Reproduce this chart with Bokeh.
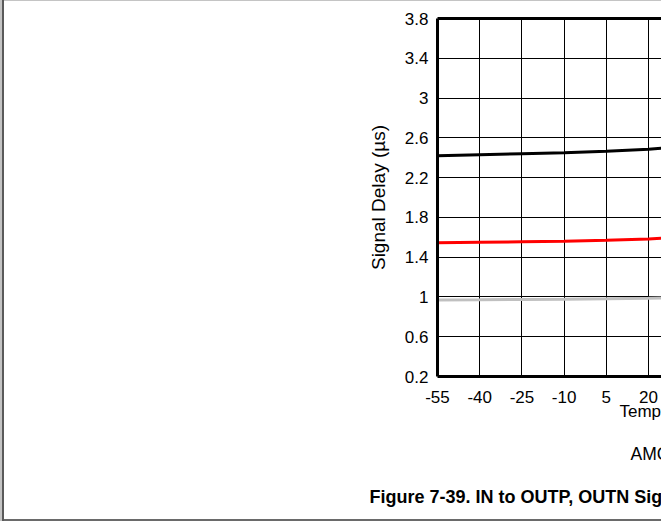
from bokeh.plotting import figure
from bokeh.models import (Range1d, FixedTicker, LinearAxis, Title)
from bokeh.embed import file_html
from bokeh.resources import INLINE

# ---- data ----
temperature = [-55, -40, -25, -10, 5, 20, 35]
delay_black = [2.42, 2.43, 2.44, 2.45, 2.465, 2.485, 2.52]
delay_red = [1.545, 1.55, 1.555, 1.56, 1.57, 1.583, 1.61]
delay_gray = [0.97, 0.972, 0.975, 0.978, 0.982, 0.987, 0.995]

x_ticks = [-55, -40, -25, -10, 5, 20, 35, 50, 65, 80, 95, 110, 125]
x_tick_labels = ["-55", "-40", "-25", "-10", "5", "20", "35", "50", "65", "80", "95", "110", "125"]
y_ticks = [0.2, 0.6, 1.0, 1.4, 1.8, 2.2, 2.6, 3.0, 3.4, 3.8]
y_tick_labels = ["0.2", "0.6", "1", "1.4", "1.8", "2.2", "2.6", "3", "3.4", "3.8"]

y_title = "Signal Delay (\u00b5s)"
x_title = "Temperature (\u00b0C)"
chart_id = "AMC3301"
caption = "Figure 7-39. IN to OUTP, OUTN Signal Delay vs Temperature"

FONT = "Liberation Sans"

W, H = 661, 521
FL, FT, FB = 437, 18, 376  # frame left / top / bottom (page px)

p = figure(width=W, height=H, output_backend="svg", toolbar_location=None,
           x_range=Range1d(-55, 24.6), y_range=Range1d(0.2, 3.8),
           min_border_left=FL, min_border_right=0, min_border_top=FT,
           min_border_bottom=H - FB)
p.outline_line_color = None
p.background_fill_color = "white"
p.border_fill_color = None
p.styles = {"background-color": "white",
            "box-shadow": "inset 2px 0 0 #c4c4c4, inset 4px 0 0 #5a5a5a, "
                          "inset 0 -2px 0 #6a6a6a, inset 0 1px 0 #c4c4c4"}

# grid
p.xgrid.ticker = FixedTicker(ticks=x_ticks)
p.ygrid.ticker = FixedTicker(ticks=y_ticks)
for g in (p.xgrid, p.ygrid):
    g.grid_line_color = "black"
    g.grid_line_width = 1

# axes
xa = p.xaxis[0]
ya = p.yaxis[0]
xa.ticker = FixedTicker(ticks=x_ticks)
ya.ticker = FixedTicker(ticks=y_ticks)
xa.major_label_overrides = {t: s for t, s in zip(x_ticks, x_tick_labels)}
ya.major_label_overrides = {t: s for t, s in zip(y_ticks, y_tick_labels)}
for ax in (xa, ya):
    ax.axis_line_width = 3
    ax.axis_line_color = "black"
    ax.major_tick_in = 0
    ax.major_tick_out = 0
    ax.minor_tick_in = 0
    ax.minor_tick_out = 0
    ax.major_label_text_font = FONT
    ax.major_label_text_font_size = "17px"
    ax.major_label_text_color = "black"
xa.major_label_standoff = 14
ya.major_label_standoff = 9
ya.axis_label = y_title
ya.axis_label_text_font = FONT
ya.axis_label_text_font_size = "19px"
ya.axis_label_text_font_style = "normal"
ya.axis_label_text_color = "black"
ya.axis_label_standoff = 13

top_axis = LinearAxis(ticker=FixedTicker(ticks=[]), axis_line_width=3,
                      axis_line_color="black", major_tick_in=0, major_tick_out=0,
                      minor_tick_in=0, minor_tick_out=0, major_label_standoff=0)
p.add_layout(top_axis, "above")

# texts under the chart (titles stacked below the x axis)
p.add_layout(Title(text=x_title, align="left", offset=619 - FL, text_font=FONT,
                   text_font_size="17px", text_font_style="normal", text_color="black",
                   standoff=-12), "below")
p.add_layout(Title(text=chart_id, align="left", offset=630 - FL, text_font=FONT,
                   text_font_size="17.5px", text_font_style="normal", text_color="black",
                   standoff=55), "below")
p.add_layout(Title(text=caption, align="left", offset=369 - FL, text_font=FONT,
                   text_font_size="18px", text_font_style="bold", text_color="black",
                   standoff=-13), "below")

# series
p.line(temperature, delay_gray, line_color="#c0c0c0", line_width=3)
p.line(temperature, delay_red, line_color="#ff0000", line_width=3)
p.line(temperature, delay_black, line_color="black", line_width=3)

open("out.html", "w").write(file_html(p, INLINE))
